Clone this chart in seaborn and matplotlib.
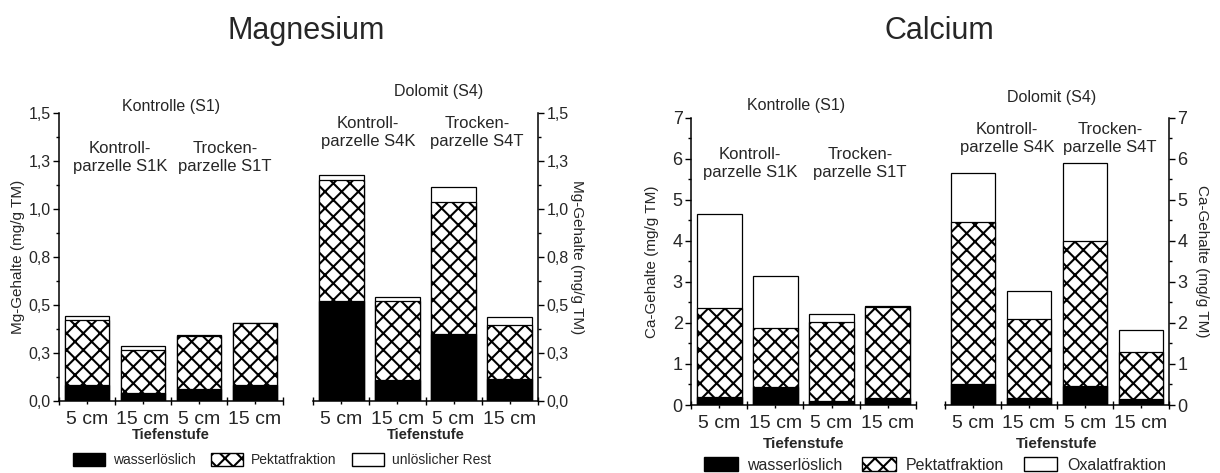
import numpy as np
import matplotlib
matplotlib.use("Agg")
import matplotlib.pyplot as plt
import seaborn as sns
from matplotlib.patches import Patch

# ---------------- data ----------------
depths = ["5 cm", "15 cm", "5 cm", "15 cm"]
keys_s1 = ["S1K 5", "S1K 15", "S1T 5", "S1T 15"]
keys_s4 = ["S4K 5", "S4K 15", "S4T 5", "S4T 15"]

mg_s1_wasser = [0.083, 0.040, 0.062, 0.081]
mg_s1_pektat = [0.338, 0.225, 0.278, 0.323]
mg_s1_rest = [0.019, 0.019, 0.003, 0.002]

mg_s4_wasser = [0.518, 0.110, 0.349, 0.113]
mg_s4_pektat = [0.631, 0.408, 0.684, 0.285]
mg_s4_rest = [0.026, 0.021, 0.083, 0.038]

ca_s1_wasser = [0.187, 0.447, 0.106, 0.162]
ca_s1_pektat = [2.185, 1.421, 1.909, 2.234]
ca_s1_oxalat = [2.275, 1.276, 0.203, 0.024]

ca_s4_wasser = [0.512, 0.162, 0.463, 0.138]
ca_s4_pektat = [3.956, 1.926, 3.534, 1.162]
ca_s4_oxalat = [1.178, 0.698, 1.909, 0.528]

mg_yticks = [0.0, 0.25, 0.5, 0.75, 1.0, 1.25, 1.5]
mg_yticklabels = ["0,0", "0,3", "0,5", "0,8", "1,0", "1,3", "1,5"]
ca_yticks = [0, 1, 2, 3, 4, 5, 6, 7]
ca_yticklabels = ["0", "1", "2", "3", "4", "5", "6", "7"]

# ---------------- style ----------------
sns.set_style("ticks")
plt.rcParams["font.family"] = ["Liberation Sans", "DejaVu Sans"]
plt.rcParams["hatch.linewidth"] = 1.5
plt.rcParams["hatch.color"] = "black"

W, H = 1220, 473
fig = plt.figure(figsize=(W / 100, H / 100), dpi=100)


def rect(x0, x1, ytop, ybot):
    return [x0 / W, (H - ybot) / H, (x1 - x0) / W, (ybot - ytop) / H]


HATCH = "xx"


def draw_panel(ax, keys, wasser, pektat, rest, ymax, side, yticks, yticklabels,
               minor, ylabel, ylabel_x, ytick_fs, xlabel_y, xlabel_fs):
    wasser = np.array(wasser)
    pektat = np.array(pektat)
    rest = np.array(rest)
    total = wasser + pektat + rest
    mid = wasser + pektat
    common = dict(order=keys, width=0.8, errorbar=None, saturation=1,
                  edgecolor="black", linewidth=0.9, ax=ax)
    sns.barplot(x=keys, y=total, color="white", **common)
    sns.barplot(x=keys, y=mid, color="white", hatch=HATCH, **common)
    sns.barplot(x=keys, y=wasser, color="black", **common)

    ax.set_xlim(-0.5, 3.5)
    ax.set_ylim(0, ymax)
    ax.set_xticks(range(4))
    ax.set_xticklabels(depths, fontsize=14)
    ax.set_xticks([-0.5, 0.5, 1.5, 2.5, 3.5], minor=True)
    ax.tick_params(axis="x", which="major", direction="out", length=2,
                   width=1, pad=5, color="black")
    ax.tick_params(axis="x", which="minor", direction="inout", length=6,
                   width=1, color="black")

    ax.set_yticks(yticks)
    ax.set_yticklabels(yticklabels, fontsize=ytick_fs)
    ax.set_yticks(np.arange(0, ymax + 1e-9, minor), minor=True)
    ax.tick_params(axis="y", which="major", direction="out", length=4,
                   width=1, pad=2, color="black")
    ax.tick_params(axis="y", which="minor", direction="out", length=2.5,
                   width=1, color="black")

    ax.set_xlabel("Tiefenstufe", fontsize=xlabel_fs, fontweight="bold")
    ax.xaxis.set_label_coords(0.5, xlabel_y)
    ax.xaxis.label.set_va("center")

    if side == "left":
        sns.despine(ax=ax, top=True, right=True)
        ax.set_ylabel(ylabel, fontsize=11)
    else:
        sns.despine(ax=ax, top=True, left=True, right=False)
        ax.yaxis.tick_right()
        ax.yaxis.set_label_position("right")
        ax.set_ylabel(ylabel, fontsize=11, rotation=270)
    ax.yaxis.set_label_coords(ylabel_x, 0.5)
    ax.yaxis.label.set_va("center")
    ax.yaxis.label.set_ha("center")
    for s in ax.spines.values():
        s.set_linewidth(1.1)
        s.set_color("black")
    ax.set_facecolor("none")


# Magnesium
ax_mg1 = fig.add_axes(rect(59, 283, 112.7, 401))
ax_mg4 = fig.add_axes(rect(313, 538, 112.7, 401))
# Calcium
ax_ca1 = fig.add_axes(rect(691, 916, 117.7, 405))
ax_ca4 = fig.add_axes(rect(945, 1169, 117.7, 405))

draw_panel(ax_mg1, keys_s1, mg_s1_wasser, mg_s1_pektat, mg_s1_rest, 1.5, "left",
           mg_yticks, mg_yticklabels, 0.125, "Mg-Gehalte (mg/g TM)", -0.183, 11.5,
           -0.118, 10.5)
draw_panel(ax_mg4, keys_s4, mg_s4_wasser, mg_s4_pektat, mg_s4_rest, 1.5, "right",
           mg_yticks, mg_yticklabels, 0.125, "Mg-Gehalte (mg/g TM)", 1.172, 11.5,
           -0.118, 10.5)
draw_panel(ax_ca1, keys_s1, ca_s1_wasser, ca_s1_pektat, ca_s1_oxalat, 7, "left",
           ca_yticks, ca_yticklabels, 0.5, "Ca-Gehalte (mg/g TM)", -0.173, 13,
           -0.136, 11)
draw_panel(ax_ca4, keys_s4, ca_s4_wasser, ca_s4_pektat, ca_s4_oxalat, 7, "right",
           ca_yticks, ca_yticklabels, 0.5, "Ca-Gehalte (mg/g TM)", 1.147, 13,
           -0.136, 11)


def annot(ax, group_title, gx, gy, sub_left, sub_right, lx, rx, sy):
    tr = ax.get_xaxis_transform()
    ax.text(gx, gy, group_title, transform=tr, ha="center", va="center",
            fontsize=11.5, clip_on=False)
    ax.text(lx, sy, sub_left, transform=tr, ha="center", va="center",
            fontsize=12, linespacing=1.25, clip_on=False)
    ax.text(rx, sy, sub_right, transform=tr, ha="center", va="center",
            fontsize=12, linespacing=1.25, clip_on=False)


annot(ax_mg1, "Kontrolle (S1)", 1.5, 1.02, "Kontroll-\nparzelle S1K",
      "Trocken-\nparzelle S1T", 0.59, 2.46, 0.845)
annot(ax_mg4, "Dolomit (S4)", 1.74, 1.072, "Kontroll-\nparzelle S4K",
      "Trocken-\nparzelle S4T", 0.48, 2.42, 0.933)
annot(ax_ca1, "Kontrolle (S1)", 1.37, 1.044, "Kontroll-\nparzelle S1K",
      "Trocken-\nparzelle S1T", 0.55, 2.50, 0.842)
annot(ax_ca4, "Dolomit (S4)", 1.41, 1.072, "Kontroll-\nparzelle S4K",
      "Trocken-\nparzelle S4T", 0.61, 2.45, 0.929)

# Titles
fig.text(306 / W, 1 - 39 / H, "Magnesium", ha="center", va="baseline", fontsize=22)
fig.text(939 / W, 1 - 39 / H, "Calcium", ha="center", va="baseline", fontsize=22)

# Legends
def handles(third):
    return [
        Patch(facecolor="black", edgecolor="black", label="wasserlöslich"),
        Patch(facecolor="white", edgecolor="black", hatch=HATCH, label="Pektatfraktion"),
        Patch(facecolor="white", edgecolor="black", label=third),
    ]


fig.legend(handles=handles("unlöslicher Rest"), loc="center",
           bbox_to_anchor=(282 / W, 1 - 460 / H), ncol=3, frameon=False,
           fontsize=10, handlelength=2.3, handleheight=1.05, handletextpad=0.6,
           columnspacing=1.1, borderpad=0, borderaxespad=0)
fig.legend(handles=handles("Oxalatfraktion"), loc="center",
           bbox_to_anchor=(935 / W, 1 - 465 / H), ncol=3, frameon=False,
           fontsize=11.5, handlelength=2.1, handleheight=1.0, handletextpad=0.6,
           columnspacing=1.25, borderpad=0, borderaxespad=0)

fig.savefig("out.png", dpi=100)
